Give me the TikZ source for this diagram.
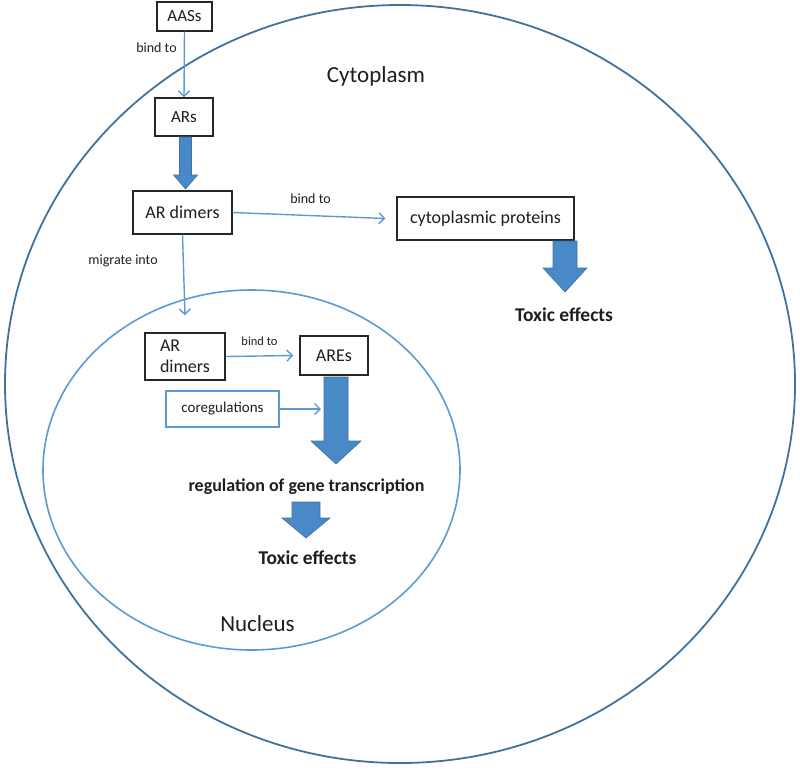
\documentclass[tikz,border=0pt]{standalone}
\usepackage{fontspec}
\setmainfont{Carlito}
\usetikzlibrary{arrows.meta}
\definecolor{cellblue}{HTML}{41719C}
\definecolor{nucblue}{HTML}{5B9BD5}
\definecolor{arrblue}{HTML}{5B9BD5}
\definecolor{fillblue}{HTML}{4A89C8}
\definecolor{txt}{HTML}{1E1E1E}
\tikzset{
  box/.style={draw=black!85, line width=1.3pt, fill=white, text=txt, inner sep=0pt, align=center},
  bluebox/.style={draw=nucblue, line width=1.3pt, fill=white, text=txt, inner sep=0pt},
  thin/.style={draw=arrblue, line width=1.4pt, -{Straight Barb[length=5.5pt,width=11pt]}},
  lbl/.style={text=txt, font=\fontsize{14}{16}\selectfont, inner sep=0pt},
  blk/.style={fill=fillblue, draw=cellblue, line width=0.6pt, line join=miter},
}
\newcommand{\blockarr}[6]{%
  \filldraw[blk] (#1-#4,#2) -- (#1+#4,#2) -- (#1+#4,#6) -- (#1+#5,#6) -- (#1,#3) -- (#1-#5,#6) -- (#1-#4,#6) -- cycle;}
\begin{document}
\begin{tikzpicture}[x=1pt,y=-1pt]
\useasboundingbox (0,0) rectangle (800,769);
% cell and nucleus
\draw[cellblue, line width=1.8pt] (400,384) ellipse [x radius=395, y radius=379];
\draw[nucblue, line width=1.6pt] (251.5,470) ellipse [x radius=208.5, y radius=180];
\node[text=txt, font=\fontsize{23}{25}\selectfont] (cyto) at (376,76) {Cytoplasm};
\node[text=txt, font=\fontsize{23}{25}\selectfont] (nuc) at (257.5,624) {Nucleus};
% boxes
\node[box, minimum width=55pt, minimum height=29pt, font=\fontsize{17}{19}\selectfont] (aass) at (184.5,16.5) {AASs};
\node[box, minimum width=58pt, minimum height=38pt, font=\fontsize{17}{19}\selectfont] (ars) at (184,117) {ARs};
\node[box, minimum width=99pt, minimum height=43pt, font=\fontsize{18}{20}\selectfont] (dim) at (182.5,212.5) {AR dimers};
\node[box, minimum width=177pt, minimum height=43pt, font=\fontsize{18}{20}\selectfont] (cpro) at (485.5,218.5) {cytoplasmic proteins};
\node[box, minimum width=80pt, minimum height=47pt, font=\fontsize{18}{21}\selectfont, align=left] (ndim) at (185,356.5) {AR\\dimers};
\node[box, minimum width=68pt, minimum height=39pt, font=\fontsize{18}{20}\selectfont] (ares) at (334,355.5) {AREs};
\node[bluebox, minimum width=113pt, minimum height=36pt, font=\fontsize{15}{17}\selectfont] (coreg) at (222.5,409) {coregulations};
% thin arrows
\draw[thin] (aass.south) -- (ars.north) node[lbl, pos=0.25, left=7pt] (l1) {bind to};
\draw[thin] (dim.east) -- ([xshift=-11pt]cpro.west) node[lbl, pos=0.51, above=11pt] (l2) {bind to};
\coordinate (mig) at ([yshift=17pt]ndim.north);
\draw[thin] (dim.south) -- (mig) node[lbl, pos=0.33, left=25pt] (l3) {migrate into};
\draw[thin] (ndim.east) -- ([xshift=-6pt]ares.west) node[lbl, font=\fontsize{12.5}{14}\selectfont, midway, above=10pt] (l4) {bind to};
\coordinate (coregend) at (321,409);
\draw[thin] (coreg.east) -- (coregend);
% block arrows
\blockarr{185.5}{137}{189}{6}{12}{175}
\blockarr{336}{377}{464}{12}{25}{441}
\blockarr{565}{241}{292}{12}{22}{268}
\blockarr{306}{502}{538}{14}{24}{518}
% texts
\node[text=txt, font=\bfseries\fontsize{18}{20}\selectfont] (reg) at (306.5,487) {regulation of gene transcription};
\node[text=txt, font=\bfseries\fontsize{19.5}{21}\selectfont] (tox1) at (307.5,558) {Toxic effects};
\node[text=txt, font=\bfseries\fontsize{19.5}{21}\selectfont] (tox2) at (564,315) {Toxic effects};
\end{tikzpicture}
\end{document}
